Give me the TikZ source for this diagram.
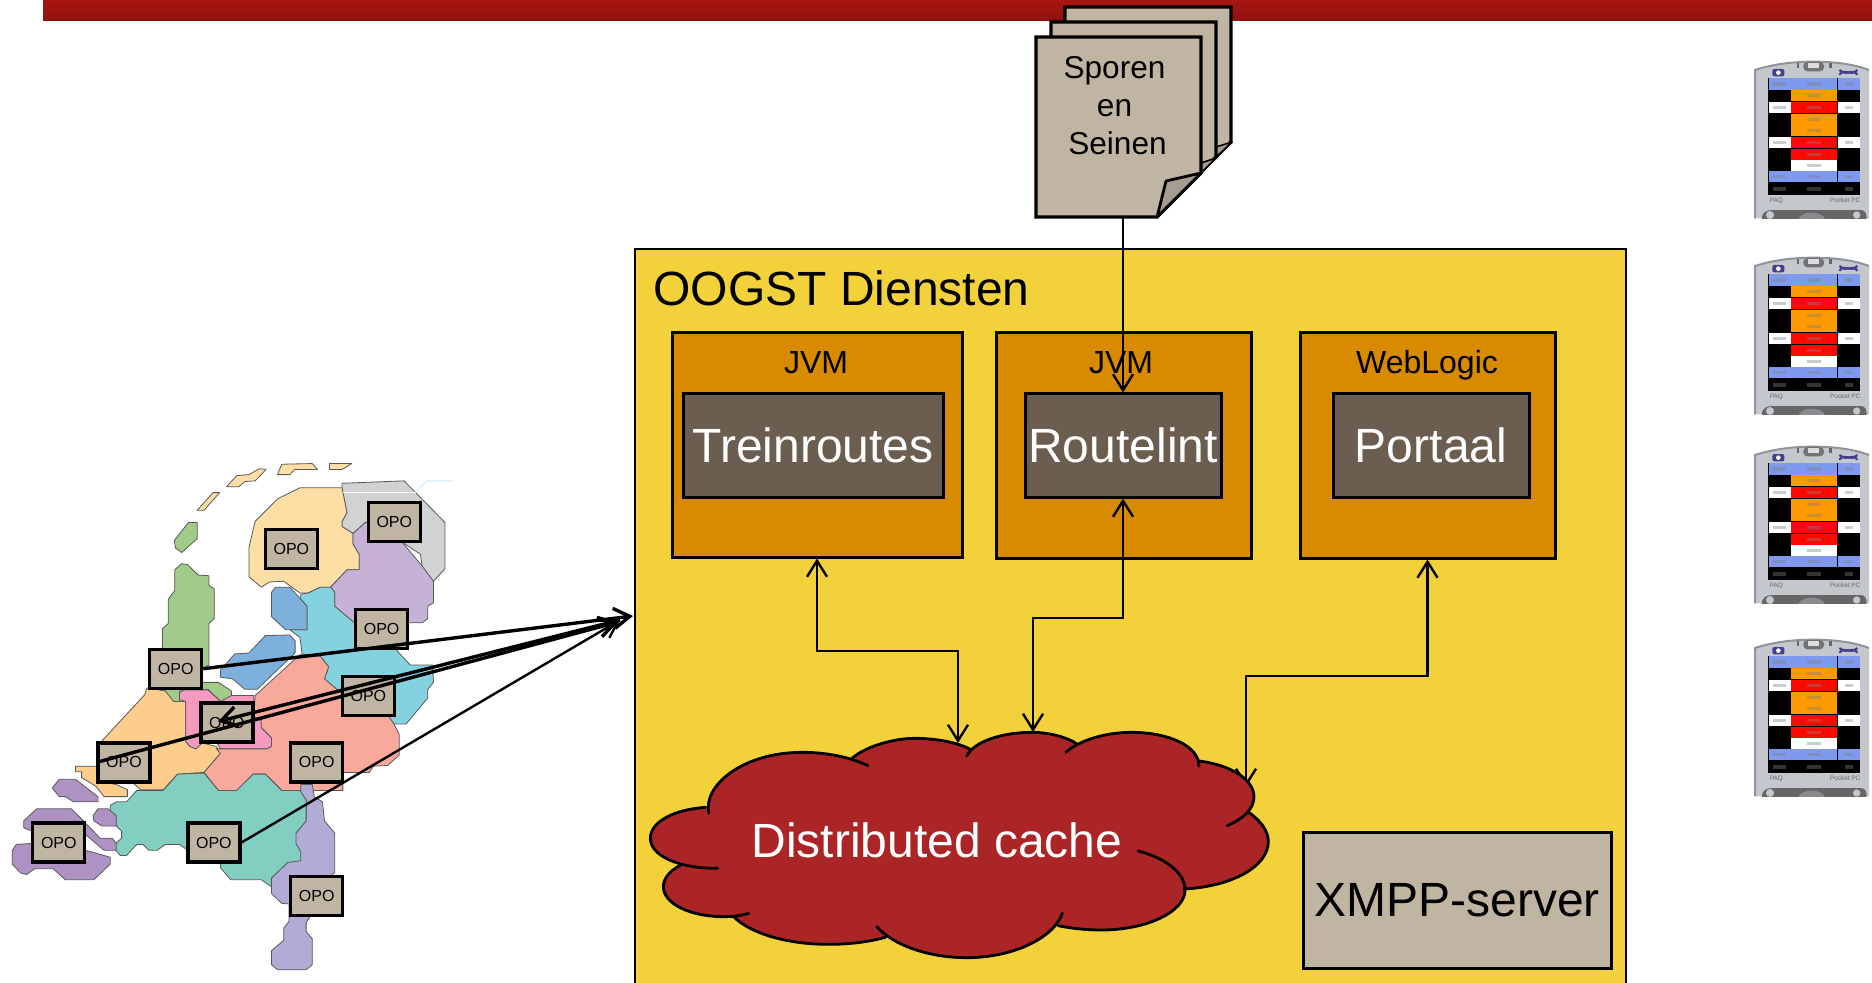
\documentclass[tikz,border=0pt]{standalone}
\usepackage{fontspec}
\setmainfont{Liberation Sans}
\usetikzlibrary{arrows.meta,calc}
\definecolor{barTop}{HTML}{A81510}
\definecolor{barBot}{HTML}{8E1210}
\definecolor{tan}{HTML}{C0B4A3}
\definecolor{foldc}{HTML}{A79D8F}
\definecolor{yel}{HTML}{F3D13B}
\definecolor{org}{HTML}{D88A00}
\definecolor{inner}{HTML}{6B5D4F}
\definecolor{cloudc}{HTML}{AB2527}
\definecolor{mIsl}{HTML}{FDDFA6}
\definecolor{mGrey}{HTML}{D0D2D3}
\definecolor{mLil}{HTML}{C6B2D6}
\definecolor{mCya}{HTML}{84D1E0}
\definecolor{mBlu}{HTML}{7EB0DE}
\definecolor{mGrn}{HTML}{A2CA89}
\definecolor{mPnk}{HTML}{F49AC0}
\definecolor{mOrg}{HTML}{FDCD8B}
\definecolor{mSal}{HTML}{F8A99C}
\definecolor{mTea}{HTML}{82CEC0}
\definecolor{mPer}{HTML}{B1ABD6}
\definecolor{mPur}{HTML}{AF92C4}
\definecolor{pB}{HTML}{7E99EE}
\definecolor{pO}{HTML}{FC9A00}
\definecolor{pR}{HTML}{F80A00}
\definecolor{pW}{HTML}{FFFFFF}
\definecolor{pK}{HTML}{000000}
\definecolor{pBody}{HTML}{C4C7CC}
\definecolor{pEdge}{HTML}{8F949B}
\tikzset{
  pagebox/.style={draw=black,line width=1.7pt,fill=tan,line join=miter},
  foldbox/.style={draw=black,line width=1.4pt,fill=foldc,line join=round},
  outerbox/.style={draw=black,line width=1.5pt,fill=org,inner sep=0pt},
  innerbox/.style={draw=black,line width=1.5pt,fill=inner,text=white,inner sep=0pt,font=\fontsize{24}{28}\selectfont},
  boxlabel/.style={anchor=base,inner sep=0pt,font=\fontsize{16}{19}\selectfont},
  opo/.style={draw=black,line width=1.6pt,fill=tan,minimum width=26pt,minimum height=19.5pt,inner sep=0pt,font=\fontsize{8}{9}\selectfont},
  prov/.style={draw=black!65,line width=0.4pt,line join=round},
  link/.style={draw=black,line width=1.2pt,{Straight Barb[length=8pt,width=10pt]}-{Straight Barb[length=8pt,width=10pt]}},
  oneway/.style={draw=black,line width=1.2pt,-{Straight Barb[length=8pt,width=10pt]}},
  feed/.style={draw=black,line width=1.7pt,-{Straight Barb[length=8pt,width=10pt]}},
  cloudline/.style={draw=black,line width=1.4pt,line cap=round},
}
\newcommand{\cloudArcs}[1]{%
  \path[#1] (205,340) .. controls (190,260) and (280,157) .. (420,157) .. controls (480,157) and (530,172) .. (572,197);
  \path[#1] (535,175) .. controls (565,140) and (630,115) .. (680,115) .. controls (730,115) and (780,128) .. (808,148);
  \path[#1] (800,168) .. controls (815,125) and (880,97) .. (950,97) .. controls (990,97) and (1030,112) .. (1052,130);
  \path[#1] (1028,157) .. controls (1060,120) and (1120,97) .. (1180,97) .. controls (1260,97) and (1335,135) .. (1335,198);
  \path[#1] (1335,183) .. controls (1410,195) and (1462,240) .. (1462,290) .. controls (1462,325) and (1440,355) .. (1400,377);
  \path[#1] (1450,337) .. controls (1480,365) and (1495,395) .. (1495,425) .. controls (1495,500) and (1410,560) .. (1300,567);
  \path[#1] (1195,453) .. controls (1260,475) and (1303,520) .. (1303,570) .. controls (1303,635) and (1215,690) .. (1110,690) .. controls (1075,690) and (1040,685) .. (1010,677);
  \path[#1] (1020,640) .. controls (1000,715) and (905,773) .. (800,773) .. controls (710,773) and (630,735) .. (592,680);
  \path[#1] (612,712) .. controls (570,727) and (525,733) .. (480,733) .. controls (385,733) and (300,700) .. (262,650);
  \path[#1] (297,640) .. controls (280,647) and (260,650) .. (240,650) .. controls (160,650) and (100,610) .. (100,560) .. controls (100,535) and (115,512) .. (140,495);
  \path[#1] (225,505) .. controls (130,505) and (70,465) .. (70,415) .. controls (70,365) and (125,328) .. (198,322);
}
\newcommand{\phoneAt}[1]{%
\begin{scope}[shift={(1720,#1)},x=0.16667pt,y=-0.16667pt]
  \clip (95,55) rectangle (456,535);
  \fill[pBody] (105,535) -- (105,90) .. controls (160,72) and (220,65) .. (280,65) .. controls (340,65) and (400,72) .. (447,90) -- (447,535) -- cycle;
  \draw[pEdge,line width=1pt] (105,535) -- (105,90) .. controls (160,72) and (220,65) .. (280,65) .. controls (340,65) and (400,72) .. (447,90);
  \fill[black!55,rounded corners=2pt] (250,66) rectangle (312,94);
  \fill[pBody!60!white] (265,70) rectangle (297,84);
  \fill[black!60] (230,70) rectangle (238,84);
  \fill[black!60] (328,70) rectangle (336,84);
  \fill[blue!40!black!75,rounded corners=1pt] (157,87) rectangle (193,109);
  \fill[white] (168,91) circle (0);
  \fill[white] (175,98) circle (7);
  \draw[blue!40!black!75,line width=1.1pt] (358,104) .. controls (375,82) and (390,112) .. (412,90);
  \draw[blue!40!black!75,line width=1.1pt] (358,90) .. controls (385,112) and (395,82) .. (412,104);
  \fill[black] (145,113) rectangle (420,465);
  \foreach \ya/\yb/\cl/\cm/\cr in {114/149/pB/pB/pB,151/184/pK/pO/pK,186/219/pW/pR/pW,221/254/pK/pO/pK,256/289/pK/pO/pK,291/324/pW/pR/pW,326/359/pK/pR/pK,361/392/pK/pW/pK,394/427/pB/pB/pB,429/464/pK/pK/pK}{
    \fill[\cl] (146,\ya) rectangle (212,\yb);
    \fill[\cm] (214,\ya) rectangle (351,\yb);
    \fill[\cr] (353,\ya) rectangle (419,\yb);
    \fill[gray,opacity=0.4] (262,\ya+12) rectangle (302,\yb-12);
  }
  \foreach \ya/\yb in {186/219,291/324,114/149,394/427,429/464}{
    \fill[gray,opacity=0.4] (160,\ya+12) rectangle (198,\yb-12);
    \fill[gray,opacity=0.4] (375,\ya+12) rectangle (398,\yb-12);
  }
  \node[anchor=base west,inner sep=0pt,text=black!60,font=\fontsize{3.2}{4}\selectfont] at (148,488) {PAQ};
  \node[anchor=base east,inner sep=0pt,text=black!60,font=\fontsize{3.2}{4}\selectfont] at (422,488) {Pocket PC};
  \fill[black!60] (125,540) .. controls (125,515) and (140,510) .. (160,510) -- (420,510) .. controls (437,510) and (440,520) .. (440,540) -- cycle;
  \fill[pBody] (150,525) circle (12);
  \fill[pBody!70!black] (275,540) ellipse (40 and 22);
  \fill[pBody] (410,525) circle (11);
\end{scope}}
\begin{document}
\begin{tikzpicture}[x=0.5pt,y=-0.5pt]
\useasboundingbox (0,0) rectangle (1872,983);
\clip (0,0) rectangle (1872,983);
\fill[white] (0,0) rectangle (1872,983);
% top bar
\shade[top color=barTop,bottom color=barBot] (43,0) rectangle (1872,21);
% stacked pages
\draw[pagebox] (1065,7) -- (1231,7) -- (1231,142) -- (1215,158) -- (1065,158) -- cycle;
\draw[foldbox,line width=0.8pt] (1216,147) -- (1232,142) -- (1214,159) -- cycle;
\draw[pagebox] (1051,22) -- (1216,22) -- (1216,157) -- (1200,173) -- (1051,173) -- cycle;
\draw[foldbox,line width=0.8pt] (1201,163) -- (1216,158) -- (1199,175) -- cycle;
\draw[pagebox] (1036,37) -- (1201,37) -- (1201,173) -- (1157,217) -- (1036,217) -- cycle;
\draw[foldbox] (1157,217) -- (1166,181) -- (1201,173) -- cycle;
\node[inner sep=0pt,minimum width=82.5pt,minimum height=90pt] (doc) at (1118.5,127) {};
\node[anchor=base,inner sep=0pt,align=center,font=\fontsize{15.8}{19}\selectfont] (sporen) at (1114.5,155) {Sporen\\en\\\hspace*{3pt}Seinen};
% container
\node[draw=black,line width=1.2pt,fill=yel,minimum width=495.5pt,minimum height=370.5pt,inner sep=0pt] (oogst) at (1130.5,619.5) {};
\node[anchor=base west,inner sep=0pt,font=\fontsize{24}{28}\selectfont] (oogstlabel) at (653,306) {OOGST Diensten};
% boxes
\node[outerbox,minimum width=145pt,minimum height=112pt] (jvma) at (817,445) {};
\node[outerbox,minimum width=127.5pt,minimum height=112.5pt] (jvmb) at (1123.5,445.5) {};
\node[outerbox,minimum width=127.5pt,minimum height=112.5pt] (wl) at (1427.5,445.5) {};
\node[boxlabel] (jvmal) at (816,374) {JVM};
\node[boxlabel] (jvmbl) at (1121,374) {JVM};
\node[boxlabel] (wll) at (1427,374) {WebLogic};
\node[innerbox,minimum width=130pt,minimum height=51.5pt] (trein) at (813,445.5) {Treinroutes};
\node[innerbox,minimum width=98pt,minimum height=51.5pt] (route) at (1123,445.5) {Routelint};
\node[innerbox,minimum width=98pt,minimum height=51.5pt] (port) at (1431,445.5) {Portaal};
% connectors in the container
\coordinate (ca) at (958,743);
\coordinate (cb) at (1033,732);
\coordinate (cc) at (1246,787);
\coordinate (ya) at (0,651);
\coordinate (yb) at (0,618);
\coordinate (yc) at (0,676);
\draw[oneway] (route |- doc.south) -- (route.north);
\draw[link] (jvma.south) -- (jvma.south |- ya) -- (ya -| ca) -- (ca);
\draw[link] (route.south) -- (route.south |- yb) -- (yb -| cb) -- (cb);
\draw[link] (wl.south) -- (wl.south |- yc) -- (yc -| cc) -- (cc);
% cloud
\begin{scope}[shift={(620,700)},x=0.21683pt,y=-0.16667pt]
  \fill[cloudc] (205,340) .. controls (190,260) and (280,157) .. (420,157) .. controls (480,157) and (530,172) .. (572,197)
    -- (535,175) .. controls (565,140) and (630,115) .. (680,115) .. controls (730,115) and (780,128) .. (808,148)
    -- (800,168) .. controls (815,125) and (880,97) .. (950,97) .. controls (990,97) and (1030,112) .. (1052,130)
    -- (1028,157) .. controls (1060,120) and (1120,97) .. (1180,97) .. controls (1260,97) and (1335,135) .. (1335,198)
    -- (1335,183) .. controls (1410,195) and (1462,240) .. (1462,290) .. controls (1462,325) and (1440,355) .. (1450,337)
    .. controls (1480,365) and (1495,395) .. (1495,425) .. controls (1495,500) and (1410,560) .. (1300,567)
    -- (1303,570) .. controls (1303,635) and (1215,690) .. (1110,690) .. controls (1075,690) and (1040,685) .. (1010,677)
    -- (1020,640) .. controls (1000,715) and (905,773) .. (800,773) .. controls (710,773) and (630,735) .. (592,680)
    -- (612,712) .. controls (570,727) and (525,733) .. (480,733) .. controls (385,733) and (300,700) .. (262,650)
    -- (240,650) .. controls (160,650) and (100,610) .. (100,560) .. controls (100,535) and (115,512) .. (140,495)
    -- (225,505) .. controls (130,505) and (70,465) .. (70,415) .. controls (70,365) and (125,328) .. (198,322) -- cycle;
  \cloudArcs{cloudline}
\end{scope}
\node[anchor=base,inner sep=0pt,text=white,font=\fontsize{24}{28}\selectfont] (cache) at (937,857) {Distributed cache};
\node[draw=black,line width=1.5pt,fill=tan,minimum width=154pt,minimum height=68pt,inner sep=0pt,font=\fontsize{24}{28}\selectfont] (xmpp) at (1457,900) {XMPP-server};
% map
\begin{scope}[shift={(0,440)},x=0.20408pt,y=-0.17313pt]
  \draw[prov,fill=mIsl] plot coordinates {(555,135)(580,103)(610,100)(635,83)(652,85)(625,118)(600,120)(585,135)} -- cycle;
  \draw[prov,fill=mIsl] plot coordinates {(680,100)(690,70)(765,68)(778,85)(722,85)(710,100)} -- cycle;
  \draw[prov,fill=mIsl] plot coordinates {(807,68)(862,68)(838,85)(807,85)} -- cycle;
  \draw[prov,fill=mIsl] plot coordinates {(483,203)(522,152)(538,152)(500,203)} -- cycle;
  \draw[prov,fill=mGrn] plot coordinates {(427,290)(462,238)(483,238)(483,285)(445,325)(430,312)} -- cycle;
  \draw[prov,fill=mGrey] plot coordinates {(838,125)(990,118)(1090,238)(1090,372)(1062,408)(1035,370)(1030,330)(985,295)(895,238)(865,270)(838,250)(838,235)(850,210)(838,140)} -- cycle;
  \draw[prov,fill=mIsl] plot coordinates {(610,310)(625,235)(680,170)(735,138)(838,138)(850,210)(838,235)(838,250)(865,270)(865,300)(880,330)(880,375)(850,375)(810,425)(785,425)(755,442)(735,442)(695,408)(660,410)(640,425)(610,395)} -- cycle;
  \draw[prov,fill=mLil] plot coordinates {(865,270)(895,238)(985,295)(1035,365)(1062,408)(1062,470)(1048,480)(1048,515)(1035,528)(1000,528)(868,528)(820,480)(820,440)(810,425)(850,375)(880,375)(880,330)(865,300)} -- cycle;
  \draw[prov,fill=mCya] plot coordinates {(737,445)(755,442)(785,425)(810,425)(820,440)(820,480)(868,528)(900,600)(970,605)(1005,650)(1060,650)(1062,700)(1048,720)(1048,745)(995,820)(965,820)(950,795)(835,730)(795,690)(805,655)(785,625)(740,618)(735,570)(710,548)(752,548)(752,480)(737,460)} -- cycle;
  \draw[prov,fill=mBlu] plot coordinates {(665,440)(675,425)(710,425)(737,460)(752,480)(752,548)(700,548)(665,510)} -- cycle;
  \draw[prov,fill=mBlu] plot coordinates {(540,665)(575,618)(610,615)(650,565)(710,563)(723,580)(723,615)(630,720)(600,720)(570,690)(540,685)} -- cycle;
  \draw[prov,fill=mGrn] plot coordinates {(428,375)(445,357)(460,360)(485,390)(512,392)(512,420)(525,430)(525,515)(512,530)(512,650)(495,660)(495,700)(535,700)(567,725)(567,745)(540,755)(510,720)(440,725)(440,755)(420,755)(405,725)(365,716)(365,620)(398,600)(398,545)(412,530)(412,460)(428,435)} -- cycle;
  \draw[prov,fill=mOrg] plot coordinates {(245,875)(355,735)(360,716)(405,725)(425,755)(455,755)(455,870)(465,885)(480,892)(495,875)(530,885)(540,905)(500,960)(435,965)(400,1010)(345,1010)(325,990)(300,990)(240,985)} -- cycle;
  \draw[prov,fill=mOrg] plot coordinates {(185,942)(240,942)(240,985)(285,995)(312,1010)(312,1030)(255,1030)(235,1000)(200,975)(200,958)(185,958)} -- cycle;
  \draw[prov,fill=mPnk] plot coordinates {(440,730)(450,722)(510,722)(540,755)(567,738)(622,738)(622,800)(640,810)(640,830)(665,860)(665,885)(655,892)(540,892)(530,872)(495,875)(480,892)(465,885)(455,870)(455,755)(440,750)} -- cycle;
  \draw[prov,fill=mSal] plot coordinates {(625,738)(735,620)(785,625)(805,655)(795,690)(835,730)(950,795)(965,820)(978,850)(978,910)(950,940)(915,942)(905,960)(840,960)(840,1012)(690,1012)(650,965)(620,965)(580,1012)(535,1012)(500,960)(540,905)(530,892)(655,892)(665,885)(665,860)(640,830)(640,810)(622,800)} -- cycle;
  \draw[prov,fill=mPer] plot coordinates {(737,995)(765,995)(770,1030)(790,1045)(795,1100)(820,1135)(820,1250)(805,1262)(840,1370)(760,1375)(750,1395)(750,1420)(765,1440)(765,1515)(750,1530)(680,1530)(665,1515)(665,1475)(695,1445)(695,1410)(708,1390)(708,1340)(690,1338)(665,1310)(665,1265)(705,1220)(725,1135)(750,1100)(750,1040)(737,1020)} -- cycle;
  \draw[prov,fill=mTea] plot coordinates {(270,1055)(285,1045)(310,1045)(335,1012)(400,1012)(435,965)(500,962)(535,1012)(580,1012)(620,965)(650,965)(690,1012)(735,1012)(750,1040)(750,1100)(725,1135)(725,1165)(737,1190)(737,1215)(705,1220)(665,1265)(665,1290)(640,1270)(565,1270)(540,1235)(540,1218)(460,1185)(440,1168)(405,1168)(385,1185)(365,1185)(350,1168)(335,1168)(310,1200)(295,1200)(283,1185)(283,1165)(298,1150)(298,1130)(285,1115)(285,1095)(270,1075)} -- cycle;
  \draw[prov,fill=mPur] plot coordinates {(128,1005)(145,980)(185,980)(240,1030)(240,1045)(180,1045)(160,1030)(145,1030)} -- cycle;
  \draw[prov,fill=mPur] plot coordinates {(228,1085)(240,1065)(265,1065)(285,1085)(285,1115)(250,1115)(230,1100)} -- cycle;
  \draw[prov,fill=mPur] plot coordinates {(58,1100)(90,1065)(175,1065)(225,1125)(245,1150)(275,1150)(285,1165)(285,1185)(255,1185)(235,1165)(210,1140)(80,1130)(58,1120)} -- cycle;
  \draw[prov,fill=mPur] plot coordinates {(30,1185)(40,1168)(80,1165)(210,1185)(270,1205)(270,1225)(230,1270)(160,1270)(130,1238)(85,1238)(65,1255)(50,1250)(30,1225)} -- cycle;
  \draw[cyan!25,line width=0.4pt] (1020,150) -- (1045,118) -- (1110,118);
  \draw[white,line width=0.4pt] (840,150) -- (1020,150);
\end{scope}
% OPO boxes
\node[opo] (opoa) at (394.3,522.2) {OPO};
\node[opo] (opob) at (291.4,549) {OPO};
\node[opo] (opoc) at (381.6,629) {OPO};
\node[opo] (opod) at (175.7,668.7) {OPO};
\node[opo] (opoe) at (368.4,695.9) {OPO};
\node[opo] (opof) at (226.9,722.5) {OPO};
\node[opo] (opog) at (124,762.4) {OPO};
\node[opo] (opoh) at (316.7,762.4) {OPO};
\node[opo] (opoi) at (58.8,842.5) {OPO};
\node[opo] (opoj) at (213.9,842.5) {OPO};
\node[opo] (opok) at (316.7,896) {OPO};
% OPO connectors
\coordinate (ta) at (633,616);
\coordinate (tb) at (620,620);
\coordinate (tc) at (618,622);
\coordinate (td) at (620,620);
\coordinate (inf) at (218,721.5);
\draw[feed] (opod.east) -- (ta);
\draw[feed] (opog.west) -- (tc);
\draw[feed] (tb) -- (inf);
\draw[oneway] (opoj.east) -- (td);
% handhelds
\phoneAt{40}
\phoneAt{236}
\phoneAt{425}
\phoneAt{618}
\end{tikzpicture}
\end{document}
